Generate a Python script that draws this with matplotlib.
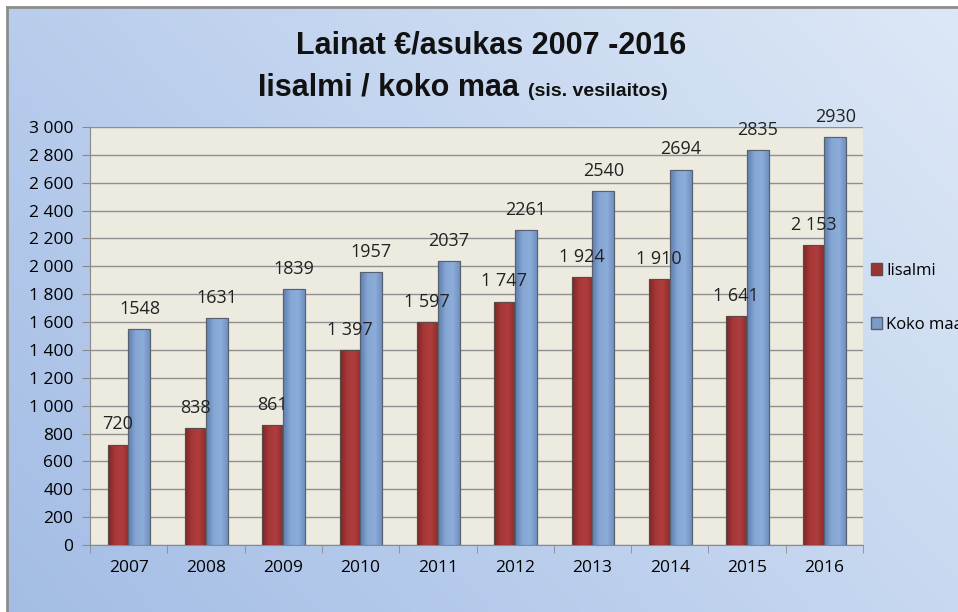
import numpy as np
import matplotlib
matplotlib.use('Agg')
from matplotlib import pyplot as plt
from matplotlib.patches import Rectangle, Patch
from matplotlib.colors import LinearSegmentedColormap

years = ['2007', '2008', '2009', '2010', '2011', '2012', '2013', '2014', '2015', '2016']
iisalmi = [720, 838, 861, 1397, 1597, 1747, 1924, 1910, 1641, 2153]
koko_maa = [1548, 1631, 1839, 1957, 2037, 2261, 2540, 2694, 2835, 2930]
iisalmi_labels = ['720', '838', '861', '1 397', '1 597', '1 747', '1 924', '1 910', '1 641', '2 153']
koko_labels = ['1548', '1631', '1839', '1957', '2037', '2261', '2540', '2694', '2835', '2930']
y_ticks = [0, 200, 400, 600, 800, 1000, 1200, 1400, 1600, 1800, 2000, 2200, 2400, 2600, 2800, 3000]
y_tick_labels = ['0', '200', '400', '600', '800', '1 000', '1 200', '1 400', '1 600', '1 800',
                 '2 000', '2 200', '2 400', '2 600', '2 800', '3 000']

plt.rcParams['font.family'] = ['Open Sans', 'DejaVu Sans']

fig = plt.figure(figsize=(9.58, 6.12), dpi=100)

# gradient background
bg = fig.add_axes([0, 0, 1, 1], zorder=-10)
gx = np.linspace(0, 1, 200)
gy = np.linspace(0, 1, 200)
GX, GY = np.meshgrid(gx, gy)
t = np.clip(0.6 * GX + 0.35 * GY, 0, 1)
c0 = np.array([0.64, 0.74, 0.90])
c1 = np.array([0.88, 0.92, 0.97])
img = c0[None, None, :] * (1 - t[..., None]) + c1[None, None, :] * t[..., None]
bg.imshow(img, extent=[0, 1, 0, 1], aspect='auto', origin='lower')
bg.add_patch(Rectangle((0, 0), 7 / 958, 1, color='white', transform=bg.transAxes))
bg.add_patch(Rectangle((0, 605 / 612), 1, 7 / 612, color='white', transform=bg.transAxes))
bg.plot([7 / 958, 7 / 958], [0, 605 / 612], color='#8c8c8c', lw=2)
bg.plot([7 / 958, 1], [605 / 612, 605 / 612], color='#8c8c8c', lw=2)
bg.set_xlim(0, 1)
bg.set_ylim(0, 1)
bg.axis('off')

ax = fig.add_axes([90 / 958, 67 / 612, 773 / 958, 418 / 612])
ax.set_facecolor('#edebe0')
x = np.arange(len(years))
red_bars = ax.bar(x - 0.14, iisalmi, width=0.26, color='#9c3333', edgecolor='#5a4a4a', linewidth=0.8, zorder=3)
blue_bars = ax.bar(x + 0.14, koko_maa, width=0.285, color='#7b9bc9', edgecolor='#56606e', linewidth=0.8, zorder=3)

# cylinder-like shading on the bars
red_cm = LinearSegmentedColormap.from_list('r', ['#7c2626', '#a83838', '#b03d3d', '#8e2e2e'])
blue_cm = LinearSegmentedColormap.from_list('b', ['#5d7eae', '#86a6d4', '#8cacd9', '#6b8bbb'])
shade = np.linspace(0, 1, 64).reshape(1, -1)
for bars, cm in [(red_bars, red_cm), (blue_bars, blue_cm)]:
    for b in bars:
        x0, y0 = b.get_x(), b.get_y()
        im = ax.imshow(shade, cmap=cm, extent=[x0, x0 + b.get_width(), y0, y0 + b.get_height()],
                       aspect='auto', zorder=3.5)
        im.set_clip_path(b)
        ax.add_patch(Rectangle((x0, y0), b.get_width(), b.get_height(), fill=False,
                               edgecolor=b.get_edgecolor(), linewidth=0.8, zorder=3.6))

for i in range(len(years)):
    ax.text(x[i] - 0.14, iisalmi[i] + 145, iisalmi_labels[i], ha='center', va='center',
            fontsize=13, color='#222222', zorder=4)
    ax.text(x[i] + 0.14, koko_maa[i] + 145, koko_labels[i], ha='center', va='center',
            fontsize=13, color='#222222', zorder=4)

ax.set_xlim(-0.5, len(years) - 0.5)
ax.set_ylim(0, 3000)
ax.set_yticks(y_ticks)
ax.set_yticklabels(y_tick_labels, fontsize=12.5)
ax.set_xticks(x)
ax.set_xticklabels(years, fontsize=12.5)
ax.set_xticks(np.arange(-0.5, len(years), 1.0), minor=True)
ax.tick_params(axis='x', which='major', length=0, pad=11)
ax.tick_params(axis='x', which='minor', length=6, color='#8a8a8a')
ax.tick_params(axis='y', length=6, color='#8a8a8a', pad=6)
ax.yaxis.grid(True, color='#8f8f8f', linewidth=1, zorder=0)
ax.set_axisbelow(True)
for s in ['top', 'right']:
    ax.spines[s].set_visible(False)
ax.spines['left'].set_color('#8a8a8a')
ax.spines['bottom'].set_color('#8a8a8a')

fig.text(491 / 958, 1 - 45 / 612, 'Lainat €/asukas 2007 -2016', ha='center', va='center',
         fontsize=22, fontweight='bold', color='#111111', family='Liberation Sans')
fig.text(258 / 958, 1 - 88 / 612, 'Iisalmi / koko maa', ha='left', va='center',
         fontsize=22, fontweight='bold', color='#111111', family='Liberation Sans')
fig.text(528 / 958, 1 - 92 / 612, '(sis. vesilaitos)', ha='left', va='center',
         fontsize=14, fontweight='bold', color='#111111', family='Liberation Sans')

handles = [Patch(facecolor='#9c3333', edgecolor='#5a4a4a'), Patch(facecolor='#7b9bc9', edgecolor='#56606e')]
fig.legend(handles, ['Iisalmi', 'Koko maa'], loc='upper left', bbox_to_anchor=(864 / 958, 1 - 256 / 612),
           frameon=False, prop={'size': 12}, handlelength=0.7, handleheight=0.7,
           handletextpad=0.25, labelspacing=2.3, borderaxespad=0)

fig.savefig('out.png', dpi=100)
